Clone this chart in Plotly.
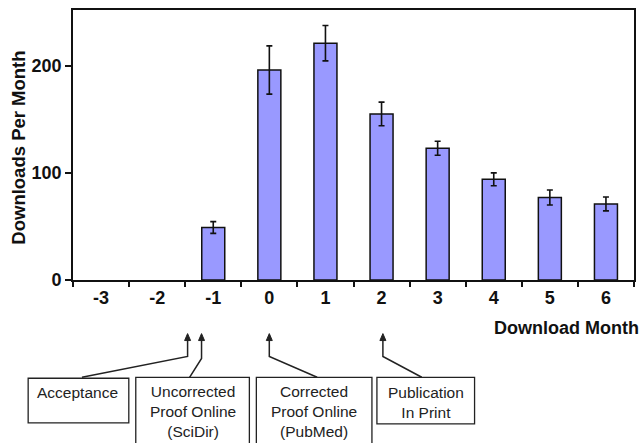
import plotly.graph_objects as go

months = ["-3", "-2", "-1", "0", "1", "2", "3", "4", "5", "6"]
downloads = [None, None, 49, 196, 221, 155, 123, 94, 77, 71]
errors = [None, None, 5.5, 22.5, 16.5, 11, 6.5, 6, 7, 6.5]
y_ticks = [0, 100, 200]

box_labels = ["Acceptance", "Uncorrected<br>Proof Online<br>(SciDir)",
              "Corrected<br>Proof Online<br>(PubMed)", "Publication<br>In Print"]

W, H = 644, 443
L, R, T, B = 73, 8, 8, 163
PW, PH = W - L - R, H - T - B

def px(x):
    return (x - L) / PW

def py(y):
    return (H - B - y) / PH

fig = go.Figure()
fig.add_trace(go.Bar(
    x=months, y=downloads, width=0.41,
    marker=dict(color="#9999ff", line=dict(color="#111111", width=1.5)),
    error_y=dict(type="data", array=errors, visible=True, color="#111111",
                 thickness=1.6, width=3),
))

shapes = []
annotations = []

boxes = [
    (28, 379, 129, 424),
    (136, 378, 250, 470),
    (257, 378, 373, 470),
    (378, 378, 476, 425),
]
for (x0, y0, x1, y1) in boxes:
    shapes.append(dict(type="rect", xref="paper", yref="paper",
                       x0=px(x0), x1=px(x1), y0=py(y0), y1=py(y1),
                       line=dict(color="#222222", width=1.3)))

text_pos = [(78, 393), (193, 412), (315, 412), (427, 403)]
for (tx, ty), lab in zip(text_pos, box_labels):
    annotations.append(dict(xref="paper", yref="paper", x=px(tx), y=py(ty),
                            text=lab, showarrow=False, xanchor="center", yanchor="middle",
                            font=dict(family="Liberation Sans, Arial", size=15.5, color="#222222")))

connectors = [
    (188, 357, 82, 378),
    (202, 359, 190, 378),
    (270, 357, 318, 378),
    (384, 357, 423, 378),
]
tip_y = 334
for (ax, ky, ex, ey) in connectors:
    path = f"M {px(ax)},{py(tip_y + 5)} L {px(ax)},{py(ky)} L {px(ex)},{py(ey)}"
    shapes.append(dict(type="path", xref="paper", yref="paper", path=path,
                       line=dict(color="#222222", width=1.5)))
    head = (f"M {px(ax)},{py(tip_y)} L {px(ax - 3)},{py(tip_y + 7)} "
            f"L {px(ax + 3)},{py(tip_y + 7)} Z")
    shapes.append(dict(type="path", xref="paper", yref="paper", path=head,
                       fillcolor="#222222", line=dict(color="#222222", width=1)))

annotations.append(dict(xref="paper", yref="paper", x=px(643), y=py(328),
                        text="<b>Download Month</b>", showarrow=False,
                        xanchor="right", yanchor="middle",
                        font=dict(family="Liberation Sans, Arial", size=18, color="#111111")))
annotations.append(dict(xref="paper", yref="paper", x=px(18.5), y=py(147),
                        text="<b>Downloads Per Month</b>", showarrow=False, textangle=-90,
                        xanchor="center", yanchor="middle",
                        font=dict(family="Liberation Sans, Arial", size=18.5, color="#111111")))

fig.update_layout(
    width=W, height=H,
    margin=dict(l=L, r=R, t=T, b=B),
    paper_bgcolor="white", plot_bgcolor="white",
    showlegend=False,
    shapes=shapes, annotations=annotations,
    font=dict(family="Liberation Sans, Arial", color="#111111"),
)
fig.update_xaxes(
    type="category", categoryorder="array", categoryarray=months,
    tickson="boundaries", ticks="outside", ticklen=5, tickwidth=1.5, tickcolor="#111111",
    showline=True, linecolor="#111111", linewidth=1.8, mirror=True,
    showgrid=False, zeroline=False,
    tickfont=dict(family="Liberation Sans, Arial", size=18, weight="bold", color="#111111"),
    fixedrange=True,
)
fig.update_yaxes(
    range=[0, 252], tickvals=y_ticks, ticks="outside", ticklen=6, tickwidth=1.5,
    tickcolor="#111111", showline=True, linecolor="#111111", linewidth=1.8, mirror=True,
    showgrid=False, zeroline=False,
    tickfont=dict(family="Liberation Sans, Arial", size=18, weight="bold", color="#111111"),
    fixedrange=True,
)

fig.write_html(
    "out.html",
    config={"displayModeBar": False},
    post_script="document.body.style.margin='0';document.body.style.overflow='hidden';",
)
